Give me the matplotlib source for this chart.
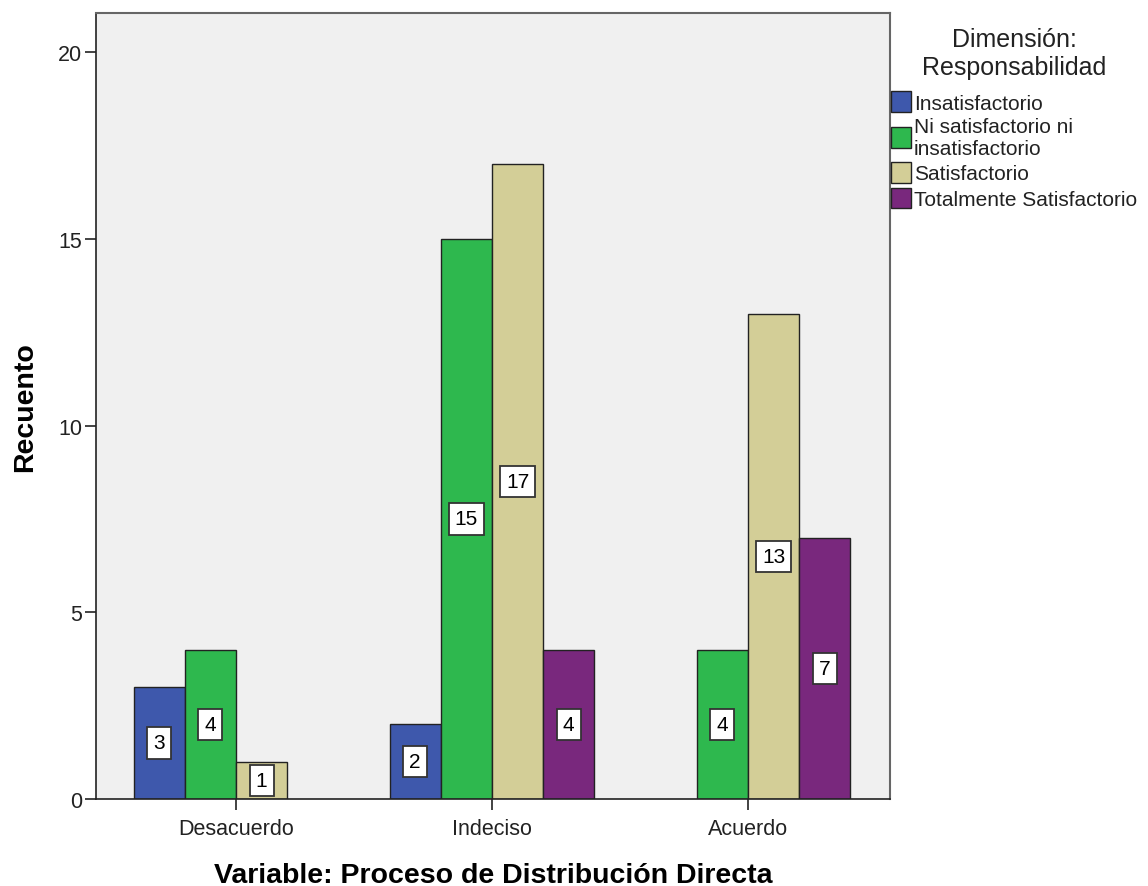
import numpy as np
import matplotlib.pyplot as plt

plt.rcParams['font.family'] = ['Liberation Sans', 'DejaVu Sans']

# Datos
grupos = ['Desacuerdo', 'Indeciso', 'Acuerdo']
categorias = ['Insatisfactorio', 'Ni satisfactorio ni\ninsatisfactorio',
              'Satisfactorio', 'Totalmente Satisfactorio']
insatisfactorio = [3, 2, 0]
ni_ni = [4, 15, 4]
satisfactorio = [1, 17, 13]
totalmente = [0, 4, 7]
colores = ['#3E58AC', '#2EB84E', '#D3CE97', '#79287D']

series = [insatisfactorio, ni_ni, satisfactorio, totalmente]

fig = plt.figure(figsize=(11.48, 8.87), dpi=100)
ax = fig.add_axes([96 / 1148, 1 - 800 / 887, (890 - 96) / 1148, (800 - 14) / 887])
ax.set_facecolor('#F0F0F0')

x = np.arange(len(grupos))
ancho = 0.2
for i, (valores, color, nombre) in enumerate(zip(series, colores, categorias)):
    pos = x + (i - 1.5) * ancho
    v = np.array(valores, dtype=float)
    mask = v > 0
    ax.bar(pos[mask], v[mask], width=ancho, color=color, edgecolor='#222222',
           linewidth=1.0, label=nombre, zorder=2)
    # etiquetas en el centro de cada barra
    for p, val in zip(pos[mask], v[mask]):
        ax.text(p, val / 2, f'{int(val)}', ha='center', va='center', fontsize=15,
                zorder=3,
                bbox=dict(boxstyle='square,pad=0.3', facecolor='white',
                          edgecolor='#333333', linewidth=1.3))

ax.set_xlim(-0.547, 2.555)
ax.set_ylim(0, 21.05)
ax.set_xticks(x)
ax.set_xticklabels(grupos)
ax.set_yticks([0, 5, 10, 15, 20])
ax.tick_params(axis='both', direction='out', length=8, width=1.2, colors='#222222',
               labelsize=15.5, labelcolor='#222222')
ax.tick_params(axis='y', pad=2)
ax.tick_params(axis='x', pad=6)

for lado in ['left', 'bottom']:
    ax.spines[lado].set_color('#222222')
    ax.spines[lado].set_linewidth(1.2)
for lado in ['top', 'right']:
    ax.spines[lado].set_color('#666666')
    ax.spines[lado].set_linewidth(1.5)

ax.set_xlabel('Variable: Proceso de Distribución Directa', fontsize=20.5,
              fontweight='bold', labelpad=16)
ax.set_ylabel('Recuento', fontsize=20.5, fontweight='bold', labelpad=14)

leg = ax.legend(loc='upper left', bbox_to_anchor=(891 / 1148, 1 - 28 / 887),
                bbox_transform=fig.transFigure, frameon=False, fontsize=15,
                title='Dimensión:\nResponsabilidad', title_fontsize=18,
                handlelength=0.95, handleheight=1.15, handletextpad=0.15,
                labelspacing=0.2, borderaxespad=0, borderpad=0)
leg.get_title().set_multialignment('center')
leg.get_title().set_color('#222222')
for t in leg.get_texts():
    t.set_color('#222222')
leg._legend_box.sep = 9

fig.savefig('out.png', dpi=100)
